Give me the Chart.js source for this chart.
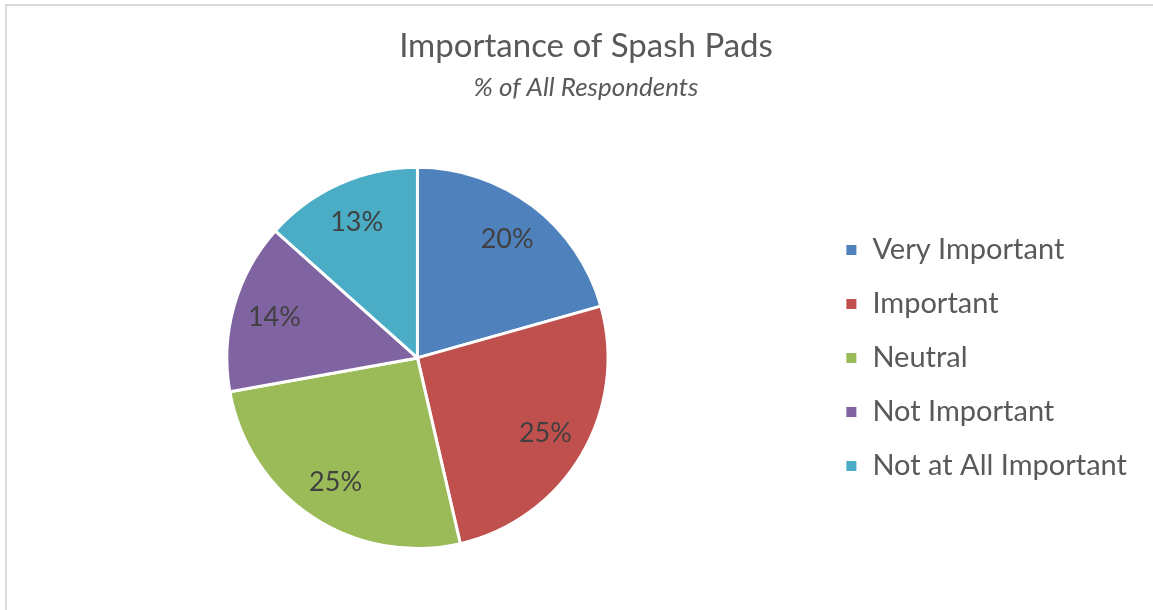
<!DOCTYPE html>
<html>
<head>
<meta charset="utf-8">
<script src="https://cdn.jsdelivr.net/npm/chart.js@4"></script>
<style>
  html, body { margin: 0; padding: 0; background: #fff; overflow: hidden; }
  #frame { position: absolute; left: 5px; top: 4px; width: 1200px; height: 700px; border: 2px solid #d9d9d9; }
  #wrap { position: absolute; left: 0; top: 0; width: 1153px; height: 610px; }
</style>
</head>
<body>
<div id="frame"></div>
<div id="wrap"><canvas id="pie"></canvas></div>
<script>
// dados
const categorias = ['Very Important', 'Important', 'Neutral', 'Not Important', 'Not at All Important'];
const percentuais = [20, 25, 25, 14, 13];
const cores = ['#4F81BD', '#C0504D', '#9BBB59', '#8064A2', '#4BACC6'];

const fonte = 'Lato, "Open Sans", sans-serif';

// escreve o % dentro de cada fatia
const rotulos = {
  id: 'rotulos',
  afterDatasetsDraw(chart) {
    const ctx = chart.ctx;
    const meta = chart.getDatasetMeta(0);
    ctx.save();
    ctx.font = '27px ' + fonte;
    ctx.fillStyle = '#404040';
    ctx.textAlign = 'center';
    ctx.textBaseline = 'middle';
    meta.data.forEach((arc, i) => {
      const p = arc.getProps(['x', 'y', 'startAngle', 'endAngle', 'outerRadius'], true);
      const meio = (p.startAngle + p.endAngle) / 2;
      const r = p.outerRadius * 0.78;
      ctx.fillText(percentuais[i] + '%', p.x + Math.cos(meio) * r, p.y + Math.sin(meio) * r);
    });
    ctx.restore();
  }
};

// o titulo fica centrado na area toda do grafico original (que passa da janela)
const centroTitulo = 586;
const centraTitulos = {
  id: 'centraTitulos',
  afterLayout(chart) {
    chart.boxes.forEach(b => {
      if (b.options && b.options.position === 'top') {
        const meia = (b.right - b.left) / 2;
        b.left = centroTitulo - meia;
        b.right = centroTitulo + meia;
      }
    });
  }
};

new Chart(document.getElementById('pie'), {
  type: 'pie',
  data: {
    labels: categorias,
    datasets: [{
      data: percentuais,
      backgroundColor: cores,
      borderColor: '#ffffff',
      borderWidth: 3
    }]
  },
  options: {
    responsive: true,
    maintainAspectRatio: false,
    animation: false,
    layout: { padding: { left: 15, right: 16, top: 0, bottom: 60 } },
    plugins: {
      title: {
        display: true,
        text: 'Importance of Spash Pads',
        color: '#595959',
        font: { family: fonte, size: 33, weight: 'normal', lineHeight: 1.2 },
        padding: { top: 27, bottom: 0 }
      },
      subtitle: {
        display: true,
        text: '% of All Respondents',
        color: '#595959',
        font: { family: fonte, size: 26, style: 'italic', lineHeight: 1.2 },
        padding: { top: 5, bottom: 63 }
      },
      legend: {
        position: 'right',
        fullSize: false,
        labels: {
          color: '#595959',
          font: { family: fonte, size: 29 },
          boxWidth: 13,
          boxHeight: 13,
          padding: 25
        }
      },
      tooltip: { enabled: false }
    }
  },
  plugins: [rotulos, centraTitulos]
});
</script>
</body>
</html>
